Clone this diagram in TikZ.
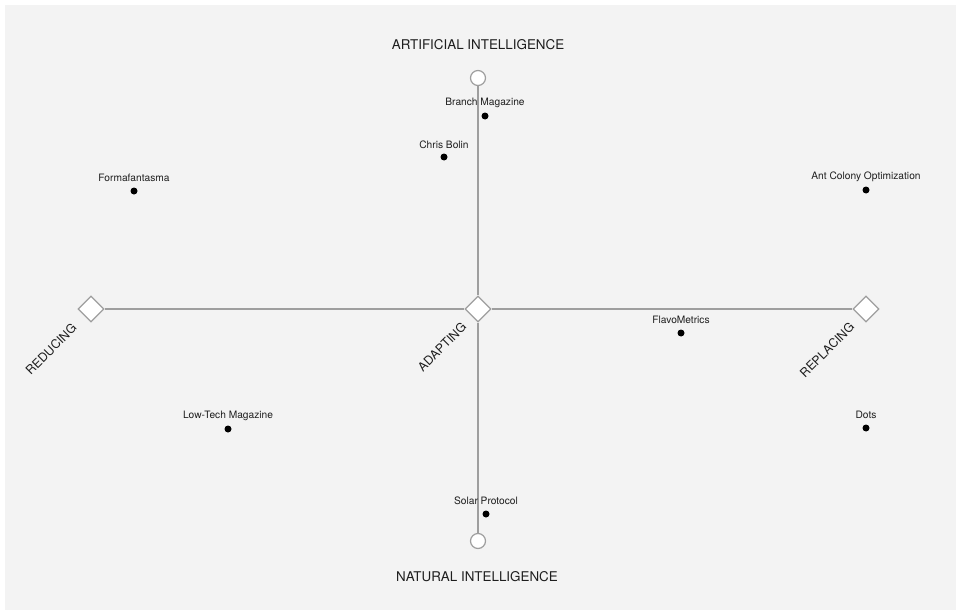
\documentclass[tikz,border=0pt]{standalone}
\usepackage{fontspec}
\setmainfont{TeX Gyre Heros}
\usetikzlibrary{shapes.geometric}
\definecolor{panel}{HTML}{F3F3F3}
\definecolor{axisgray}{HTML}{9E9E9E}
\definecolor{ink}{HTML}{1E1E1E}
\begin{document}
\begin{tikzpicture}[x=1pt,y=-1pt,
  axis/.style={draw=axisgray,line width=1.4pt},
  pole/.style={circle,draw=axisgray,line width=1.2pt,fill=white,minimum size=15pt,inner sep=0pt},
  dmd/.style={diamond,draw=axisgray,line width=1.2pt,fill=white,minimum width=26pt,minimum height=26pt,inner sep=0pt,aspect=1},
  dot/.style={circle,fill=black,minimum size=7pt,inner sep=0pt},
  lab/.style={text=ink,font=\fontsize{10.2}{11}\selectfont,inner sep=0pt},
  title/.style={text=ink,font=\fontsize{13.4}{15}\selectfont,inner sep=0pt},
  rlab/.style={text=ink,font=\fontsize{12.3}{14}\selectfont,inner sep=0pt,rotate=45}]
\useasboundingbox (0,0) rectangle (956,610);
\fill[white] (0,0) rectangle (956,610);
\fill[panel] (5,5) rectangle (956,610);
% poles and diamonds
\node[pole] (ai) at (478,78) {};
\node[pole] (ni) at (478,541) {};
\node[dmd] (adapt) at (478,309) {};
\node[dmd] (reduce) at (91,309) {};
\node[dmd] (replace) at (866,309) {};
% axes
\draw[axis] (ai.south) -- (adapt.north);
\draw[axis] (adapt.south) -- (ni.north);
\draw[axis] (reduce.east) -- (adapt.west);
\draw[axis] (adapt.east) -- (replace.west);
% titles
\node[title] (tai) at (478,45) {ARTIFICIAL INTELLIGENCE};
\node[title] (tni) at (477,577) {NATURAL INTELLIGENCE};
\node[rlab] (treduce) at (51,349) {REDUCING};
\node[rlab] (tadapt) at (442,347) {ADAPTING};
\node[rlab] (treplace) at (827,350) {REPLACING};
% data points
\node[dot] (branch) at (485,116) {};
\node[lab] (lbranch) at (485,103) {Branch Magazine};
\node[dot] (chris) at (444,157) {};
\node[lab] (lchris) at (444,145) {Chris Bolin};
\node[dot] (forma) at (134,191) {};
\node[lab] (lforma) at (134,178) {Formafantasma};
\node[dot] (ant) at (866,190) {};
\node[lab] (lant) at (866,177) {Ant Colony Optimization};
\node[dot] (flavo) at (681,333) {};
\node[lab] (lflavo) at (681,320) {FlavoMetrics};
\node[dot] (lowtech) at (228,429) {};
\node[lab] (llowtech) at (228,416) {Low-Tech Magazine};
\node[dot] (dots) at (866,428) {};
\node[lab] (ldots) at (866,415) {Dots};
\node[dot] (solar) at (486,514) {};
\node[lab] (lsolar) at (486,501) {Solar Protocol};
\end{tikzpicture}
\end{document}
